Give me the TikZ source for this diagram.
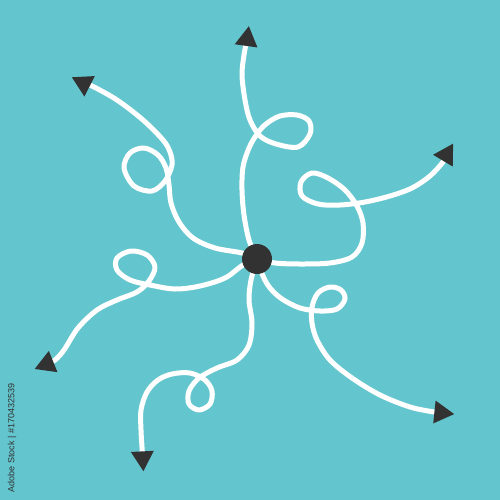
\documentclass[tikz,border=0pt]{standalone}
\usepackage{fontspec}
\newfontfamily\stockfont{Liberation Sans}
\usetikzlibrary{shapes.geometric}
\definecolor{sea}{RGB}{99,198,206}
\definecolor{ink}{RGB}{50,50,50}
\pgfdeclarelayer{back}
\pgfsetlayers{back,main}

\begin{document}
\begin{tikzpicture}[x=1pt,y=-1pt,
    hub/.style={circle,fill=ink,minimum size=30pt,inner sep=0pt},
    head/.style={regular polygon,regular polygon sides=3,fill=ink,minimum size=26.5pt,inner sep=0pt},
    wire/.style={white,line width=5pt,line cap=round,line join=round}]
  \useasboundingbox (0,0) rectangle (500,500);

  \node [hub] (hub) at (257,259) {};
  \node [head,rotate=-8] (tipA) at (247,39.3) {};
  \node [head,rotate=-31] (tipB) at (446.3,155) {};
  \node [head,rotate=24] (tipC) at (441,412.7) {};
  \node [head,rotate=63] (tipD) at (142.7,458) {};
  \node [head,rotate=-8] (tipE) at (47,364) {};
  \node [head,rotate=-57] (tipF) at (83.7,83.3) {};

  \node [rotate=90,text=ink,font=\stockfont\fontsize{9}{10}\selectfont] (credit) at (12,438) {Adobe Stock | \#170432539};

  \begin{pgfonlayer}{back}
    \fill [sea] (0,0) rectangle (500,500);
    \draw [wire] plot [smooth,tension=0.55] coordinates {(hub.center) (249,240) (244,215) (242,190) (243,167) (249,148) (257,134) (266,124) (280,116) (297,115) (309,121) (310,134) (298,147) (276,144) (260,136) (250,120) (245,100) (242,75) (244,55) (tipA.center)};
    \draw [wire] plot [smooth,tension=0.55] coordinates {(hub.center) (275,263) (300,264) (330,263) (352,257) (362,243) (363,223) (357,206) (345,190) (328,178) (312,173) (301,182) (302,196) (318,204) (340,205) (365,202) (390,196) (412,188) (430,176) (443,162) (tipB.center)};
    \draw [wire] plot [smooth,tension=0.55] coordinates {(hub.center) (263,276) (270,288) (282,299) (300,308) (320,311) (337,309) (345,299) (341,290) (330,287) (318,293) (312,307) (312,323) (317,340) (330,360) (352,378) (380,395) (410,407) (434,412) (tipC.center)};
    \draw [wire] plot [smooth,tension=0.55] coordinates {(hub.center) (251,280) (249,300) (252,323) (249,345) (237,360) (217,368) (199,378) (189,391) (189,404) (199,410) (210,404) (212,391) (205,380) (190,373) (172,374) (158,380) (147,392) (141,410) (141,430) (142,447) (tipD.center)};
    \draw [wire] plot [smooth,tension=0.55] coordinates {(hub.center) (243,265) (225,278) (200,286) (175,289) (150,285) (130,280) (117,270) (117,258) (131,251) (147,255) (155,267) (149,281) (137,292) (117,300) (97,310) (78,328) (64,350) (55,360) (tipE.center)};
    \draw [wire] plot [smooth,tension=0.55] coordinates {(hub.center) (242,253) (215,248) (193,238) (179,222) (171,203) (169,185) (166,168) (158,155) (144,148) (130,153) (124,168) (134,186) (152,191) (165,181) (172,165) (170,152) (163,140) (143,120) (117,100) (92,86) (tipF.center)};
  \end{pgfonlayer}
\end{tikzpicture}
\end{document}
